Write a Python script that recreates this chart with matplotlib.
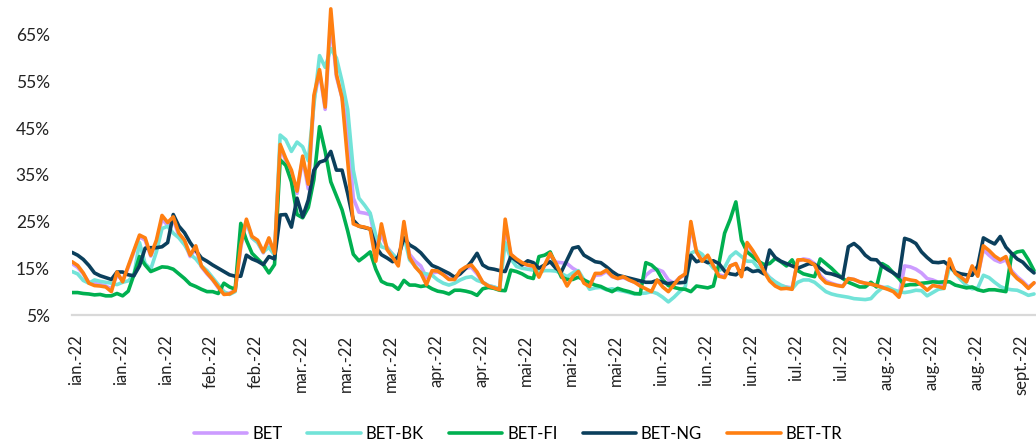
import matplotlib
matplotlib.use("Agg")
import matplotlib.pyplot as plt
from matplotlib.ticker import FixedLocator, FuncFormatter
from matplotlib.transforms import ScaledTranslation

plt.rcParams.update({"font.family": ["Lato", "DejaVu Sans"], "font.size": 12})

# volatilitate zilnica (%) - indici BVB, ian.-sept. 2022
bet = [16.0, 15.2, 13.8, 12.0, 11.8, 11.5, 11.2, 10.6, 13.6, 12.4,
       15.2, 18.5, 21.8, 21.0, 17.6, 20.5, 25.5, 24.2, 25.5, 22.0,
       20.5, 17.5, 19.2, 15.3, 13.8, 12.5, 10.8, 9.6, 9.7, 10.2,
       19.5, 25.0, 21.5, 20.5, 18.3, 21.0, 18.0, 41.0, 38.0, 35.5,
       31.0, 38.5, 32.0, 51.0, 57.0, 49.0, 68.0, 56.0, 51.5, 45.0,
       30.0, 27.0, 26.8, 26.5, 20.0, 22.0, 19.5, 18.0, 16.5, 23.5,
       18.0, 16.5, 15.5, 13.0, 14.0, 14.2, 13.8, 12.8, 12.6, 14.0,
       15.0, 15.2, 13.8, 12.0, 11.3, 11.0, 10.6, 24.0, 18.0, 16.8,
       16.0, 15.6, 15.3, 13.5, 15.5, 17.8, 16.3, 16.2, 16.0, 15.0,
       14.3, 12.2, 11.5, 13.5, 13.6, 14.3, 13.2, 12.8, 13.0, 12.5,
       12.0, 11.5, 13.5, 14.5, 14.8, 14.3, 12.5, 11.8, 13.0, 13.6,
       24.0, 18.5, 16.8, 17.5, 15.5, 13.6, 13.3, 15.5, 16.0, 13.5,
       20.0, 18.5, 16.5, 14.5, 13.0, 12.0, 11.2, 11.0, 10.8, 16.5,
       17.0, 16.8, 16.0, 13.5, 12.3, 11.8, 11.4, 11.2, 12.8, 12.6,
       12.1, 11.8, 11.6, 11.3, 11.0, 10.6, 10.2, 9.2, 15.5, 15.3,
       14.8, 14.0, 12.8, 12.5, 12.0, 11.3, 16.5, 14.0, 13.0, 12.3,
       15.0, 13.5, 19.0, 17.8, 16.8, 16.3, 16.8, 14.5, 13.2, 12.2,
       11.0, 11.8]

bet_bk = [14.3, 13.8, 12.4, 11.8, 12.5, 12.2, 12.0, 11.8, 11.5, 12.0,
          12.3, 13.5, 20.5, 16.0, 14.8, 18.5, 23.5, 24.0, 22.5, 21.5,
          20.0, 18.0, 17.0, 15.5, 14.5, 13.0, 11.5, 10.0, 9.4, 10.0,
          22.0, 25.0, 21.5, 20.5, 18.5, 19.5, 17.8, 43.5, 42.5, 40.0,
          42.0, 41.0, 38.0, 50.0, 60.5, 58.0, 62.0, 60.0, 55.0, 49.0,
          36.0, 30.0, 28.5, 26.8, 22.0, 19.6, 19.2, 18.0, 16.8, 22.0,
          16.8, 15.5, 14.0, 13.8, 13.5, 12.5, 11.8, 11.4, 11.8, 12.5,
          13.0, 13.2, 12.4, 12.0, 11.3, 11.0, 10.6, 20.5, 17.0, 15.4,
          15.0, 14.8, 14.6, 14.2, 14.5, 14.5, 14.4, 13.9, 13.2, 14.0,
          14.5, 12.5, 10.5, 10.8, 10.9, 10.4, 10.6, 10.3, 10.1, 9.8,
          9.5, 9.6, 9.7, 10.0, 9.6, 8.8, 7.8, 8.8, 10.0, 11.0,
          18.2, 18.8, 18.0, 16.5, 15.0, 14.5, 15.2, 17.5, 18.5, 17.5,
          16.5, 16.5, 15.0, 14.2, 13.0, 12.1, 11.4, 10.9, 10.6, 12.0,
          12.5, 12.5, 12.0, 11.0, 10.0, 9.5, 9.2, 9.0, 8.8, 8.5,
          8.4, 8.3, 8.5, 9.8, 10.8, 11.0, 10.4, 10.0, 9.8, 10.0,
          10.3, 10.2, 9.1, 9.8, 10.5, 10.7, 15.3, 14.0, 12.5, 11.3,
          10.6, 10.8, 13.5, 13.0, 12.0, 11.1, 10.6, 10.4, 10.3, 9.8,
          9.2, 9.5]

bet_fi = [9.8, 9.8, 9.6, 9.5, 9.3, 9.4, 9.1, 9.1, 9.6, 9.1,
          10.1, 13.6, 17.5, 15.7, 14.3, 14.8, 15.3, 15.2, 14.8, 13.8,
          12.8, 11.6, 11.1, 10.5, 10.0, 10.0, 9.6, 11.8, 11.0, 10.5,
          24.6, 21.0, 18.2, 17.0, 15.8, 14.0, 15.8, 38.2, 37.0, 33.5,
          26.5, 25.8, 28.0, 34.0, 45.3, 40.0, 33.5, 30.5, 27.5, 23.0,
          18.0, 16.6, 17.5, 18.5, 14.8, 12.2, 11.6, 11.4, 10.5, 12.4,
          11.4, 11.4, 11.1, 11.3, 10.6, 10.1, 9.9, 9.5, 10.3, 10.3,
          10.1, 9.8, 9.2, 10.6, 10.9, 10.7, 10.3, 10.2, 14.6, 14.3,
          13.8, 13.1, 12.8, 17.5, 17.8, 18.5, 15.7, 13.1, 12.6, 12.6,
          13.1, 12.5, 11.9, 11.4, 11.1, 10.5, 10.0, 10.7, 10.3, 10.0,
          9.6, 9.5, 16.2, 15.7, 14.6, 12.5, 11.3, 10.9, 10.6, 10.5,
          10.0, 11.2, 11.0, 10.8, 11.2, 16.0, 22.5, 25.5, 29.2, 21.0,
          18.5, 17.5, 16.5, 15.8, 16.0, 17.1, 16.4, 15.5, 16.8, 14.5,
          13.8, 13.5, 13.2, 17.0, 16.0, 15.0, 13.8, 12.8, 12.0, 11.5,
          11.0, 11.0, 12.0, 11.0, 16.0, 15.3, 14.0, 12.8, 11.3, 11.5,
          11.5, 11.8, 11.9, 12.1, 12.0, 12.1, 12.1, 11.4, 11.1, 10.8,
          11.0, 10.4, 10.1, 10.4, 10.4, 10.2, 10.0, 17.8, 18.5, 18.7,
          16.8, 14.5]

bet_ng = [18.4, 17.8, 16.9, 15.6, 14.0, 13.4, 13.0, 12.6, 14.2, 14.2,
          13.6, 13.4, 15.5, 19.3, 19.4, 19.4, 19.6, 20.5, 26.5, 24.0,
          22.6, 20.5, 18.8, 17.2, 16.5, 15.7, 15.0, 14.3, 13.6, 13.3,
          13.3, 17.8, 17.0, 16.5, 15.8, 17.5, 17.0, 26.4, 26.5, 23.8,
          30.0, 26.0, 29.6, 36.0, 37.7, 38.1, 40.0, 36.0, 36.0, 31.0,
          25.3, 24.0, 23.7, 23.4, 19.6, 17.9, 17.2, 16.4, 17.5, 21.5,
          20.0, 19.3, 18.3, 16.9, 15.6, 15.1, 14.5, 13.9, 13.1, 13.8,
          15.0, 16.4, 18.2, 15.7, 15.0, 14.8, 14.5, 14.3, 17.5, 16.6,
          15.7, 16.6, 16.2, 15.0, 15.7, 16.4, 15.0, 14.3, 16.8, 19.3,
          19.6, 17.8, 17.1, 16.4, 16.2, 15.3, 14.3, 13.5, 13.2, 12.9,
          12.6, 12.3, 12.0, 12.0, 12.4, 12.0, 11.7, 11.9, 11.9, 12.0,
          17.8, 16.4, 16.8, 16.2, 16.6, 16.0, 14.4, 13.8, 13.6, 14.5,
          15.0, 14.3, 14.5, 13.8, 18.9, 17.3, 16.5, 16.0, 15.5, 15.0,
          15.5, 16.0, 15.8, 15.0, 14.0, 13.8, 13.4, 12.9, 19.6, 20.3,
          19.3, 17.8, 16.9, 16.8, 15.5, 14.7, 14.0, 13.2, 21.4, 21.0,
          20.3, 18.5, 17.3, 16.3, 16.2, 16.4, 15.5, 14.2, 13.8, 13.6,
          13.5, 15.5, 21.5, 20.8, 20.2, 21.8, 19.5, 18.2, 17.0, 16.3,
          15.0, 14.0]

bet_tr = [16.4, 15.6, 14.0, 11.8, 11.3, 11.2, 11.0, 10.0, 14.2, 12.1,
          15.5, 18.8, 22.1, 21.5, 17.8, 21.0, 26.3, 24.8, 26.0, 22.5,
          21.0, 17.8, 19.8, 15.5, 14.0, 12.6, 11.0, 9.4, 9.5, 10.2,
          20.0, 25.5, 21.8, 21.0, 18.5, 21.5, 18.2, 41.5, 38.5, 36.0,
          31.5, 39.0, 33.0, 52.0, 57.5, 49.5, 70.5, 56.5, 51.5, 38.0,
          24.5, 24.0, 23.8, 23.4, 16.5, 24.5, 19.0, 17.3, 15.5, 25.0,
          17.3, 15.3, 14.0, 11.5, 14.5, 14.4, 13.6, 12.6, 12.6, 14.5,
          15.3, 15.7, 14.2, 12.0, 11.2, 10.8, 10.4, 25.5, 18.0, 17.0,
          16.2, 15.7, 15.5, 13.1, 15.7, 18.2, 16.1, 13.6, 11.2, 13.2,
          14.3, 11.8, 11.1, 13.9, 13.9, 14.6, 13.3, 12.8, 13.2, 12.5,
          12.0, 11.2, 10.6, 10.0, 12.5, 11.0, 10.0, 11.5, 13.0, 13.8,
          25.0, 18.5, 16.5, 17.8, 15.5, 13.3, 13.0, 15.5, 16.0, 13.2,
          20.5, 18.8, 16.8, 14.3, 12.3, 11.2, 10.6, 10.7, 10.5, 16.8,
          16.8, 16.5, 15.7, 13.1, 11.9, 11.6, 11.3, 11.1, 12.8, 12.6,
          12.1, 11.8, 11.6, 11.3, 10.9, 10.5, 10.0, 8.8, 12.8, 12.5,
          12.3, 11.4, 10.3, 11.3, 11.1, 10.7, 17.0, 13.9, 13.1, 12.1,
          15.5, 13.3, 19.8, 18.8, 17.6, 16.8, 17.5, 14.1, 12.8, 11.9,
          10.7, 11.9]

series = {"BET": bet, "BET-BK": bet_bk, "BET-FI": bet_fi,
          "BET-NG": bet_ng, "BET-TR": bet_tr}
colors = {"BET": "#CC9BFF", "BET-BK": "#72E3D8", "BET-FI": "#00B050",
          "BET-NG": "#0B3F5C", "BET-TR": "#FF7F11"}

# eticheta la fiecare a 8-a sedinta
tick_labels = ["ian.-22", "ian.-22", "ian.-22", "feb.-22", "feb.-22",
               "mar.-22", "mar.-22", "mar.-22", "apr.-22", "apr.-22",
               "mai-22", "mai-22", "mai-22", "iun.-22", "iun.-22", "iun.-22",
               "iul.-22", "iul.-22", "aug.-22", "aug.-22", "aug.-22", "sept.-22"]
y_ticks = [5, 15, 25, 35, 45, 55, 65]


def plot_volatility(save_path="out.png"):
    fig = plt.figure(figsize=(10.36, 4.45), dpi=100)
    ax = fig.add_axes([72 / 1036, 130 / 445, 964 / 1036, 315 / 445])

    n = len(bet)
    x = list(range(n))
    for name, vals in series.items():
        ax.plot(x, vals, color=colors[name], lw=2.6, label=name,
                solid_joinstyle="round", solid_capstyle="round")

    ax.set_xlim(0, n - 0.65)
    ax.set_ylim(5, 72.4)
    ax.xaxis.set_major_locator(FixedLocator(list(range(0, n, 8))))
    ax.set_xticklabels(tick_labels, rotation=90, fontsize=12)
    ax.yaxis.set_major_locator(FixedLocator(y_ticks))
    ax.yaxis.set_major_formatter(FuncFormatter(lambda v, _: f"{v:.0f}%"))
    ax.tick_params(axis="y", length=0, pad=16, labelsize=12.5, colors="#222222")
    ax.tick_params(axis="x", length=0, pad=14, colors="#222222")
    # etichetele din Excel stau putin la dreapta punctului
    shift = ScaledTranslation(4 / 100, 0, fig.dpi_scale_trans)
    for lbl in ax.get_xticklabels():
        lbl.set_transform(lbl.get_transform() + shift)

    for s in ("top", "right", "left"):
        ax.spines[s].set_visible(False)
    ax.spines["bottom"].set_color("#D9D9D9")
    ax.spines["bottom"].set_linewidth(1.6)

    fig.legend(loc="center", bbox_to_anchor=(0.5, 11 / 445), ncol=5,
               frameon=False, fontsize=12, handlelength=3.2,
               handletextpad=0.3, columnspacing=1.5)

    if save_path:
        fig.savefig(save_path, dpi=100)
    return fig


plot_volatility("out.png")
